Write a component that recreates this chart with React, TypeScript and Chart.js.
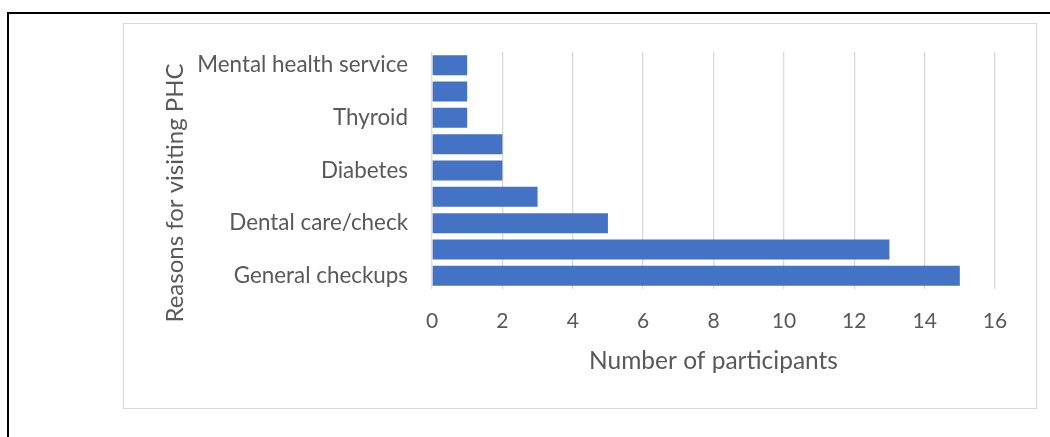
import React, { useEffect, useRef } from "react";
import { Chart, registerables } from "chart.js";

Chart.register(...registerables);

const categories: string[] = [
  "Mental health service",
  "",
  "Thyroid",
  "",
  "Diabetes",
  "",
  "Dental care/check",
  "",
  "General checkups",
];
const participants: number[] = [1, 1, 1, 2, 2, 3, 5, 13, 15];
const xTicksMin = 0;
const xTicksMax = 16;
const xTickStep = 2;
const xTitle = "Number of participants";
const yTitle = "Reasons for visiting PHC";

const FONT = "Lato";
const TEXT = "#595959";

const yTitlePlugin = {
  id: "yTitleOffset",
  afterDraw(chart: any) {
    const ctx = chart.ctx;
    ctx.save();
    ctx.translate(175, 193);
    ctx.rotate(-Math.PI / 2);
    ctx.font = `24px ${FONT}`;
    ctx.fillStyle = TEXT;
    ctx.textAlign = "center";
    ctx.textBaseline = "middle";
    ctx.fillText(yTitle, 0, 0);
    ctx.restore();
  },
};

export default function App() {
  const ref = useRef<HTMLCanvasElement | null>(null);

  useEffect(() => {
    if (!ref.current) return;
    const chart = new Chart(ref.current, {
      type: "bar",
      data: {
        labels: categories,
        datasets: [
          {
            data: participants,
            backgroundColor: "#4472C4",
            borderWidth: 0,
            categoryPercentage: 1,
            barPercentage: 0.76,
          },
        ],
      },
      plugins: [yTitlePlugin],
      options: {
        indexAxis: "y",
        responsive: false,
        animation: false,
        devicePixelRatio: 1,
        layout: { padding: { left: 150, right: 55, top: 52, bottom: 40 } },
        plugins: {
          legend: { display: false },
          tooltip: { enabled: false },
        },
        scales: {
          x: {
            min: xTicksMin,
            max: xTicksMax,
            ticks: {
              stepSize: xTickStep,
              color: TEXT,
              font: { family: FONT, size: 21 },
              padding: 20,
            },
            grid: { color: "#d9d9d9", lineWidth: 1.3, drawTicks: false },
            border: { display: false },
            title: {
              display: true,
              text: xTitle,
              color: TEXT,
              font: { family: FONT, size: 24.5 },
              padding: { top: 0, bottom: 21 },
            },
            afterFit: (s: any) => {
              s.height = 108;
            },
          },
          y: {
            ticks: {
              autoSkip: false,
              color: TEXT,
              font: { family: FONT, size: 22.4 },
              padding: 24,
            },
            grid: { display: false, drawTicks: false },
            border: { display: false },
            afterFit: (s: any) => {
              s.width = 282;
            },
          },
        },
      },
    });
    return () => chart.destroy();
  }, []);

  return (
    <div
      style={{
        position: "fixed",
        left: 0,
        top: 0,
        width: 1050,
        height: 437,
        overflow: "hidden",
        background: "#ffffff",
      }}
    >
      <div
        style={{
          position: "absolute",
          left: 7,
          top: 12,
          width: 1100,
          height: 500,
          border: "2px solid #000000",
          boxSizing: "border-box",
        }}
      />
      <div
        style={{
          position: "absolute",
          left: 123,
          top: 23,
          width: 914,
          height: 386,
          border: "1.5px solid #d9d9d9",
          boxSizing: "border-box",
        }}
      />
      <canvas
        ref={ref}
        width={1050}
        height={437}
        style={{ position: "absolute", left: 0, top: 0, width: 1050, height: 437 }}
      />
    </div>
  );
}
